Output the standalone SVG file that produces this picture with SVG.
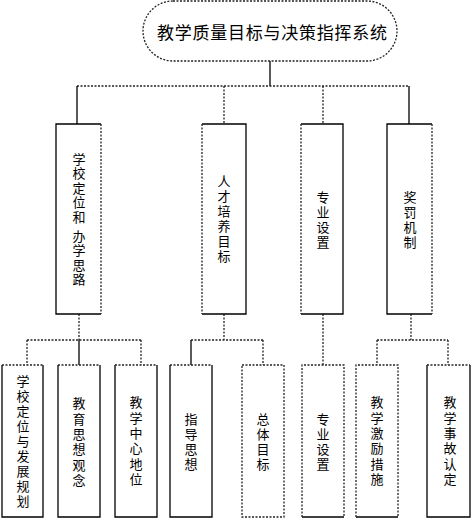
<svg xmlns="http://www.w3.org/2000/svg" width="472" height="519" viewBox="0 0 472 519">
<style>
.s{stroke:#000;stroke-width:1.3;fill:none}
.d{stroke:#222;stroke-width:1.3;fill:none;stroke-dasharray:2 1.5}
.bg{fill:#fff;stroke:none}
text{font-family:"Noto Sans CJK SC","Noto Sans",sans-serif;fill:#000}
.t{font-size:13px;writing-mode:vertical-rl;text-anchor:middle;letter-spacing:2px}
.title{font-size:17px;dominant-baseline:central}
</style>
<rect width="472" height="519" fill="#fff"/>
<g id="connectors">
<path class="s" d="M270,61V86"/>
<path class="d" d="M77,86H409"/>
<path class="s" d="M77,86V124M409,86V124"/>
<path class="d" d="M224,86V124M323,86V124"/>
<path class="d" d="M79,314V340M27,340H141M27,340V365M141,340V365"/>
<path class="s" d="M79,340V365"/>
<path class="d" d="M224,314V340M191,340H263M263,340V365"/>
<path class="s" d="M191,340V365"/>
<path class="d" d="M323,314V365"/>
<path class="d" d="M411,314V340M377,340H448M377,340V365M448,340V365"/>
</g>
<g id="root">
<rect x="143" y="1" width="254" height="60" rx="30" ry="30" class="bg"/>
<rect x="143" y="1" width="254" height="60" rx="30" ry="30" class="d"/>
<text class="title" x="157" y="31" textLength="230" lengthAdjust="spacing">教学质量目标与决策指挥系统</text>
</g>
<g id="n1">
<rect class="bg" x="56" y="124" width="45" height="190"/>
<path class="s" d="M101,124H56V314H101"/><path class="d" d="M101,124V314"/>
<text class="t" x="79" y="220" style="letter-spacing:1.5px">学校定位和 办学思路</text>
</g>
<g id="n2">
<rect class="bg" x="202" y="124" width="44" height="190"/>
<path class="s" d="M202,124H246V314H202"/><path class="d" d="M202,124V314"/>
<text class="t" x="224" y="220">人才培养目标</text>
</g>
<g id="n3">
<rect class="bg" x="301" y="124" width="42" height="190"/>
<path class="s" d="M301,124H343V314H301"/><path class="d" d="M301,124V314"/>
<text class="t" x="323" y="221">专业设置</text>
</g>
<g id="n4">
<rect class="bg" x="387" y="124" width="45" height="190"/>
<path class="s" d="M432,124H387V314H432"/><path class="d" d="M432,124V314"/>
<text class="t" x="410" y="221">奖罚机制</text>
</g>
<g id="n1a">
<rect class="bg" x="2" y="365" width="41" height="152"/>
<path class="s" d="M2,365V517H43V365"/><path class="d" d="M2,365H43"/>
<text class="t" x="23" y="442">学校定位与发展规划</text>
</g>
<g id="n1b">
<rect class="bg" x="58" y="365" width="42" height="152"/>
<path class="s" d="M58,365V517H100V365"/><path class="d" d="M58,365H100"/>
<text class="t" x="79" y="443" style="letter-spacing:2.4px">教育思想观念</text>
</g>
<g id="n1c">
<rect class="bg" x="115" y="365" width="42" height="152"/>
<path class="s" d="M115,365V517H157V365"/><path class="d" d="M115,365H157"/>
<text class="t" x="136" y="442" style="letter-spacing:2.4px">教学中心地位</text>
</g>
<g id="n2a">
<rect class="bg" x="170" y="365" width="42" height="152"/>
<path class="s" d="M170,365V517H212V365"/><path class="d" d="M170,365H212"/>
<text class="t" x="191" y="443">指导思想</text>
</g>
<g id="n2b">
<rect class="bg" x="242" y="365" width="42" height="152"/>
<path class="d" d="M242,365H284V517H242Z"/>
<text class="t" x="263" y="443">总体目标</text>
</g>
<g id="n3a">
<rect class="bg" x="302" y="365" width="42" height="152"/>
<path class="s" d="M302,517H344"/><path class="d" d="M302,517V365H344V517"/>
<text class="t" x="323" y="443">专业设置</text>
</g>
<g id="n4a">
<rect class="bg" x="356" y="365" width="42" height="152"/>
<path class="s" d="M356,517H398"/><path class="d" d="M356,517V365H398V517"/>
<text class="t" x="377" y="442" style="letter-spacing:2.4px">教学激励措施</text>
</g>
<g id="n4b">
<rect class="bg" x="427" y="365" width="43" height="152"/>
<path class="s" d="M427,365V517H470V365"/><path class="d" d="M427,365H470"/>
<text class="t" x="450" y="442" style="letter-spacing:2.4px">教学事故认定</text>
</g>
</svg>
